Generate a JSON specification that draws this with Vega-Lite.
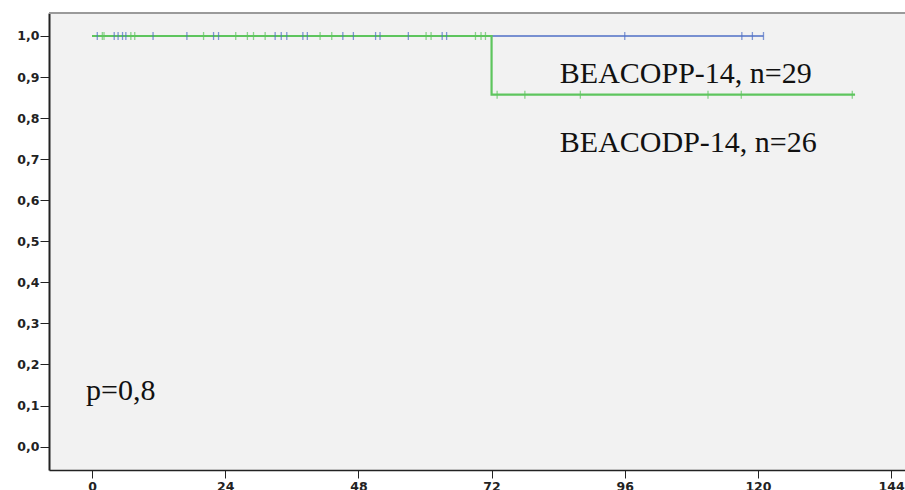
{
  "$schema": "https://vega.github.io/schema/vega-lite/v6.json",
  "width": 856,
  "height": 457,
  "autosize": {"type": "none"},
  "padding": {"left": 49, "top": 13, "right": 0, "bottom": 20},
  "background": "white",
  "config": {
    "view": {"fill": "#f2f2f2", "stroke": null},
    "axis": {"grid": false, "labelFont": "DejaVu Sans", "labelFontWeight": "bold", "labelFontSize": 12.5, "labelColor": "#222222", "domainColor": "#222222", "tickColor": "#222222", "title": null}
  },
  "datasets": {
    "curves": [
      {"group": "BEACOPP-14", "time": 0, "surv": 1.0},
      {"group": "BEACOPP-14", "time": 121, "surv": 1.0},
      {"group": "BEACODP-14", "time": 0, "surv": 1.0},
      {"group": "BEACODP-14", "time": 72, "surv": 0.857},
      {"group": "BEACODP-14", "time": 137.5, "surv": 0.857}
    ],
    "censored": [
      {"group": "BEACOPP-14", "time": 0.95, "surv": 1.0},
      {"group": "BEACOPP-14", "time": 4.0, "surv": 1.0},
      {"group": "BEACOPP-14", "time": 4.7, "surv": 1.0},
      {"group": "BEACOPP-14", "time": 5.5, "surv": 1.0},
      {"group": "BEACOPP-14", "time": 6.1, "surv": 1.0},
      {"group": "BEACOPP-14", "time": 11.0, "surv": 1.0},
      {"group": "BEACOPP-14", "time": 17.1, "surv": 1.0},
      {"group": "BEACOPP-14", "time": 21.9, "surv": 1.0},
      {"group": "BEACOPP-14", "time": 22.8, "surv": 1.0},
      {"group": "BEACOPP-14", "time": 33.0, "surv": 1.0},
      {"group": "BEACOPP-14", "time": 34.1, "surv": 1.0},
      {"group": "BEACOPP-14", "time": 35.1, "surv": 1.0},
      {"group": "BEACOPP-14", "time": 38.0, "surv": 1.0},
      {"group": "BEACOPP-14", "time": 38.8, "surv": 1.0},
      {"group": "BEACOPP-14", "time": 45.2, "surv": 1.0},
      {"group": "BEACOPP-14", "time": 47.1, "surv": 1.0},
      {"group": "BEACOPP-14", "time": 51.1, "surv": 1.0},
      {"group": "BEACOPP-14", "time": 51.9, "surv": 1.0},
      {"group": "BEACOPP-14", "time": 57.0, "surv": 1.0},
      {"group": "BEACOPP-14", "time": 63.1, "surv": 1.0},
      {"group": "BEACOPP-14", "time": 63.9, "surv": 1.0},
      {"group": "BEACOPP-14", "time": 96.0, "surv": 1.0},
      {"group": "BEACOPP-14", "time": 117.1, "surv": 1.0},
      {"group": "BEACOPP-14", "time": 119.0, "surv": 1.0},
      {"group": "BEACOPP-14", "time": 121.0, "surv": 1.0},
      {"group": "BEACODP-14", "time": 1.86, "surv": 1.0},
      {"group": "BEACODP-14", "time": 2.16, "surv": 1.0},
      {"group": "BEACODP-14", "time": 7.0, "surv": 1.0},
      {"group": "BEACODP-14", "time": 7.7, "surv": 1.0},
      {"group": "BEACODP-14", "time": 20.1, "surv": 1.0},
      {"group": "BEACODP-14", "time": 25.9, "surv": 1.0},
      {"group": "BEACODP-14", "time": 28.0, "surv": 1.0},
      {"group": "BEACODP-14", "time": 29.1, "surv": 1.0},
      {"group": "BEACODP-14", "time": 31.2, "surv": 1.0},
      {"group": "BEACODP-14", "time": 41.1, "surv": 1.0},
      {"group": "BEACODP-14", "time": 43.2, "surv": 1.0},
      {"group": "BEACODP-14", "time": 60.2, "surv": 1.0},
      {"group": "BEACODP-14", "time": 61.1, "surv": 1.0},
      {"group": "BEACODP-14", "time": 69.1, "surv": 1.0},
      {"group": "BEACODP-14", "time": 70.1, "surv": 1.0},
      {"group": "BEACODP-14", "time": 70.9, "surv": 1.0},
      {"group": "BEACODP-14", "time": 73.0, "surv": 0.857},
      {"group": "BEACODP-14", "time": 78.0, "surv": 0.857},
      {"group": "BEACODP-14", "time": 88.0, "surv": 0.857},
      {"group": "BEACODP-14", "time": 111.0, "surv": 0.857},
      {"group": "BEACODP-14", "time": 117.0, "surv": 0.857},
      {"group": "BEACODP-14", "time": 137.0, "surv": 0.857}
    ]
  },
  "layer": [
    {
      "data": {"name": "curves"},
      "transform": [{"filter": "datum.group === 'BEACOPP-14'"}],
      "mark": {"type": "line", "interpolate": "step-after", "strokeWidth": 1.6},
      "encoding": {
        "x": {"field": "time", "type": "quantitative", "scale": {"domain": [-7.75, 146.5], "nice": false, "zero": false},
              "axis": {"orient": "bottom", "values": [0, 24, 48, 72, 96, 120, 144], "format": "d", "tickSize": 8, "labelPadding": 2, "domainWidth": 1.5}},
        "y": {"field": "surv", "type": "quantitative", "scale": {"domain": [-0.057, 1.056], "nice": false, "zero": false},
              "axis": {"values": [0, 0.1, 0.2, 0.3, 0.4, 0.5, 0.6, 0.7, 0.8, 0.9, 1.0], "labelExpr": "replace(format(datum.value, '.1f'), '.', ',')", "tickSize": 9, "labelPadding": 1, "domainWidth": 2}},
        "color": {"field": "group", "type": "nominal", "scale": {"domain": ["BEACOPP-14", "BEACODP-14"], "range": ["#4f6fc6", "#5ec55e"]}, "legend": null}
      }
    },
    {
      "data": {"name": "curves"},
      "transform": [{"filter": "datum.group === 'BEACODP-14'"}],
      "mark": {"type": "line", "interpolate": "step-after", "strokeWidth": 2.2},
      "encoding": {
        "x": {"field": "time", "type": "quantitative"},
        "y": {"field": "surv", "type": "quantitative"},
        "color": {"field": "group", "type": "nominal", "legend": null}
      }
    },
    {
      "data": {"name": "censored"},
      "mark": {"type": "tick", "orient": "vertical", "size": 8, "thickness": 1.3},
      "encoding": {
        "x": {"field": "time", "type": "quantitative"},
        "y": {"field": "surv", "type": "quantitative"},
        "color": {"field": "group", "type": "nominal", "legend": null}
      }
    },
    {
      "data": {"values": [{}]},
      "mark": {"type": "text", "text": "BEACOPP-14, n=29", "font": "Liberation Serif", "fontSize": 30, "align": "left", "baseline": "alphabetic", "color": "#111111"},
      "encoding": {"x": {"datum": 84.3}, "y": {"datum": 0.8855}}
    },
    {
      "data": {"values": [{}]},
      "mark": {"type": "text", "text": "BEACODP-14, n=26", "font": "Liberation Serif", "fontSize": 30, "align": "left", "baseline": "alphabetic", "color": "#111111"},
      "encoding": {"x": {"datum": 84.3}, "y": {"datum": 0.7174}}
    },
    {
      "data": {"values": [{}]},
      "mark": {"type": "text", "text": "p=0,8", "font": "Liberation Serif", "fontSize": 30, "align": "left", "baseline": "alphabetic", "color": "#111111"},
      "encoding": {"x": {"datum": -1.08}, "y": {"datum": 0.113}}
    },
    {
      "data": {"values": [{}]},
      "mark": {"type": "rule", "color": "#9a9a9a", "strokeWidth": 2},
      "encoding": {"y": {"datum": 1.056}}
    }
  ]
}
